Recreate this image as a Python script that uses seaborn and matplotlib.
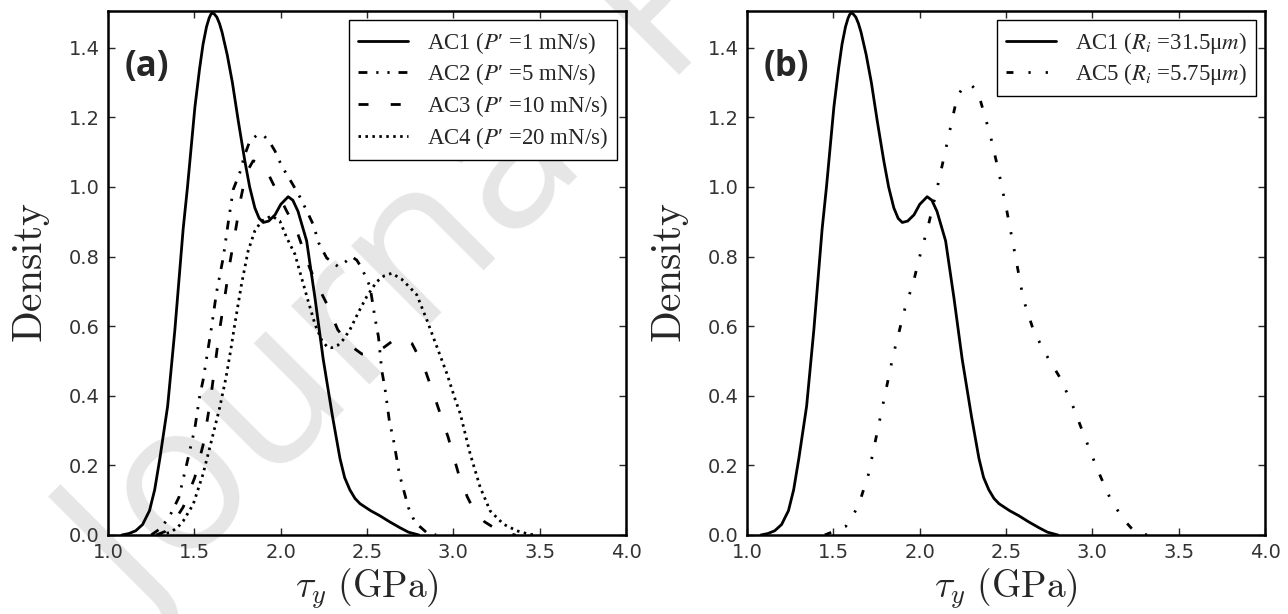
import numpy as np
import pandas as pd
import matplotlib
matplotlib.use("Agg")
import matplotlib.pyplot as plt
import seaborn as sns
from matplotlib.font_manager import FontProperties

# Density curves (tau_y in GPa)
ac1_x = [1.08, 1.12, 1.16, 1.20, 1.24, 1.27, 1.30, 1.345, 1.387, 1.435, 1.46, 1.503, 1.53, 1.55,
         1.57, 1.585, 1.595, 1.605, 1.615, 1.63, 1.645, 1.66, 1.69, 1.72, 1.754, 1.792, 1.82,
         1.85, 1.875, 1.899, 1.93, 1.967, 2.00, 2.043, 2.07, 2.10, 2.15, 2.198, 2.246, 2.30, 2.343,
         2.37, 2.40, 2.43, 2.459, 2.52, 2.575, 2.63, 2.69, 2.74, 2.80]
ac1_y = [0.0, 0.004, 0.012, 0.03, 0.07, 0.13, 0.22, 0.37, 0.59, 0.88, 1.00, 1.23, 1.34, 1.41,
         1.46, 1.485, 1.496, 1.50, 1.497, 1.488, 1.47, 1.445, 1.38, 1.30, 1.19, 1.075, 1.00,
         0.94, 0.91, 0.898, 0.902, 0.92, 0.95, 0.972, 0.962, 0.93, 0.845, 0.682, 0.505, 0.34, 0.22,
         0.165, 0.13, 0.105, 0.09, 0.07, 0.055, 0.038, 0.021, 0.008, 0.0]

ac2_x = [1.25, 1.31, 1.367, 1.41, 1.458, 1.502, 1.531, 1.55, 1.599, 1.628, 1.667, 1.696, 1.725,
         1.763, 1.79, 1.821, 1.86, 1.899, 1.935, 1.967, 2.006, 2.064, 2.103, 2.151, 2.19, 2.219,
         2.266, 2.333, 2.375, 2.41, 2.44, 2.469, 2.517, 2.546, 2.566, 2.585, 2.604, 2.63, 2.652,
         2.687, 2.739, 2.778, 2.845, 2.90]
ac2_y = [0.0, 0.021, 0.064, 0.108, 0.209, 0.305, 0.40, 0.444, 0.596, 0.697, 0.797, 0.898, 0.993,
         1.041, 1.09, 1.132, 1.148, 1.149, 1.13, 1.103, 1.06, 1.012, 0.979, 0.931, 0.89, 0.84,
         0.796, 0.771, 0.785, 0.80, 0.79, 0.767, 0.714, 0.623, 0.569, 0.473, 0.42, 0.324, 0.276,
         0.175, 0.079, 0.036, 0.007, 0.0]

ac3_x = [1.28, 1.33, 1.37, 1.435, 1.502, 1.551, 1.59, 1.648, 1.677, 1.706, 1.74, 1.77, 1.80, 1.84,
         1.88, 1.92, 1.97, 2.03, 2.09, 2.167, 2.21, 2.266, 2.33, 2.40, 2.47, 2.53, 2.60, 2.66, 2.70,
         2.76, 2.83, 2.894, 2.97, 3.03, 3.08, 3.116, 3.18, 3.25, 3.31, 3.36]
ac3_y = [0.0, 0.01, 0.03, 0.08, 0.165, 0.26, 0.377, 0.596, 0.687, 0.783, 0.88, 0.97, 1.04, 1.075,
         1.07, 1.045, 0.995, 0.935, 0.878, 0.768, 0.72, 0.665, 0.59, 0.545, 0.52, 0.518, 0.54,
         0.562, 0.565, 0.55, 0.483, 0.392, 0.28, 0.175, 0.11, 0.074, 0.038, 0.016, 0.004, 0.0]

ac4_x = [1.30, 1.357, 1.40, 1.435, 1.493, 1.55, 1.599, 1.647, 1.682, 1.71, 1.734, 1.773, 1.811,
         1.85, 1.889, 1.947, 1.995, 2.034, 2.082, 2.12, 2.16, 2.198, 2.237, 2.27, 2.295, 2.33, 2.36,
         2.40, 2.45, 2.498, 2.556, 2.60, 2.643, 2.70, 2.75, 2.788, 2.846, 2.904, 2.962, 3.01, 3.04,
         3.097, 3.155, 3.213, 3.29, 3.367, 3.44, 3.48]
ac4_y = [0.0, 0.007, 0.02, 0.04, 0.088, 0.175, 0.271, 0.367, 0.45, 0.53, 0.606, 0.721, 0.816,
         0.874, 0.902, 0.917, 0.902, 0.855, 0.807, 0.74, 0.67, 0.606, 0.56, 0.54, 0.538, 0.545, 0.56,
         0.589, 0.64, 0.685, 0.728, 0.745, 0.752, 0.735, 0.71, 0.69, 0.618, 0.541, 0.464, 0.39, 0.348,
         0.233, 0.137, 0.069, 0.031, 0.012, 0.002, 0.0]

ac5_x = [1.45, 1.49, 1.572, 1.644, 1.703, 1.775, 1.847, 1.919, 1.96, 2.00, 2.05, 2.098, 2.158, 2.218,
         2.255, 2.29, 2.32, 2.35, 2.409, 2.457, 2.505, 2.553, 2.60, 2.66, 2.732, 2.816, 2.888, 2.959,
         3.031, 3.103, 3.175, 3.246, 3.318]
ac5_y = [0.0, 0.008, 0.025, 0.082, 0.174, 0.346, 0.518, 0.66, 0.72, 0.80, 0.89, 0.99, 1.125, 1.262,
         1.288, 1.297, 1.282, 1.251, 1.148, 1.045, 0.93, 0.804, 0.678, 0.586, 0.518, 0.449, 0.369,
         0.277, 0.186, 0.105, 0.048, 0.008, 0.0]

labels_a = [r"AC1 ($P$′ =1 mN/s)", r"AC2 ($P$′ =5 mN/s)",
            r"AC3 ($P$′ =10 mN/s)", r"AC4 ($P$′ =20 mN/s)"]
labels_b = [r"AC1 ($R_i$ =31.5μ$m$)", r"AC5 ($R_i$ =5.75μ$m$)"]

x_ticks = [1.0, 1.5, 2.0, 2.5, 3.0, 3.5, 4.0]
y_ticks = [0.0, 0.2, 0.4, 0.6, 0.8, 1.0, 1.2, 1.4]

sns.set_style("ticks")
plt.rcParams.update({
    "font.family": ["DejaVu Sans"],
    "mathtext.fontset": "cm",
    "xtick.direction": "in",
    "ytick.direction": "in",
    "xtick.top": True,
    "ytick.right": True,
})

solid = "-"
dashdotdot = (0, (3.2, 3.2, 0.8, 3.2, 0.8, 3.2))
dashed = (0, (3.6, 8.0))
dotted = (0, (0.9, 1.6))
sparse_dashdot = (0, (2.5, 5.4, 0.8, 5.4, 0.8, 5.4))

fig = plt.figure(figsize=(12.88, 6.14), dpi=100)
fig.patch.set_facecolor("white")
ax_a = fig.add_axes([0.0839, 0.1287, 0.4022, 0.853])
ax_b = fig.add_axes([0.5800, 0.1287, 0.4022, 0.853])

# watermark behind the curves
fig.text(0.112, -0.021, "Journal Pre-proof", rotation=45, rotation_mode="anchor",
         ha="left", va="baseline", fontsize=150, color="#e6e6e6",
         family="Open Sans", zorder=-1)

curves_a = [(ac1_x, ac1_y, solid), (ac2_x, ac2_y, dashdotdot),
            (ac3_x, ac3_y, dashed), (ac4_x, ac4_y, dotted)]
for (xs, ys, ls), lab in zip(curves_a, labels_a):
    sns.lineplot(x=xs, y=ys, ax=ax_a, color="black", lw=2, linestyle=ls, label=lab)

curves_b = [(ac1_x, ac1_y, solid), (ac5_x, ac5_y, sparse_dashdot)]
for (xs, ys, ls), lab in zip(curves_b, labels_b):
    sns.lineplot(x=xs, y=ys, ax=ax_b, color="black", lw=2, linestyle=ls, label=lab)

leg_font = FontProperties(family="Liberation Serif", size=16.5, math_fontfamily="stix")

for ax, tag in [(ax_a, "(a)"), (ax_b, "(b)")]:
    ax.set_facecolor("none")
    ax.set_xlim(1.0, 4.0)
    ax.set_ylim(0.0, 1.505)
    ax.set_xticks(x_ticks)
    ax.set_yticks(y_ticks)
    ax.set_xticklabels([f"{v:.1f}" for v in x_ticks])
    ax.set_yticklabels([f"{v:.1f}" for v in y_ticks])
    ax.tick_params(axis="both", which="major", length=5, width=1, labelsize=14,
                   labelcolor="#333333", pad=6, top=True, right=True)
    for sp in ax.spines.values():
        sp.set_linewidth(1.8)
        sp.set_color("black")
    ax.set_xlabel(r"$\tau_y\ \mathrm{(GPa)}$", fontsize=27, labelpad=3)
    ax.set_ylabel(r"$\mathrm{Density}$", fontsize=30, labelpad=12)
    ax.text(0.032, 0.893, tag, transform=ax.transAxes, fontsize=25, fontweight="bold",
            family="Open Sans", ha="left", va="center")
    leg = ax.legend(loc="upper right", prop=leg_font, frameon=True, fancybox=False,
                    edgecolor="black", framealpha=1, handlelength=2.2, handletextpad=0.8,
                    borderpad=0.4, labelspacing=0.25, borderaxespad=0.4)
    leg.get_frame().set_linewidth(1.0)

fig.savefig("out.png", dpi=100, facecolor="white")
